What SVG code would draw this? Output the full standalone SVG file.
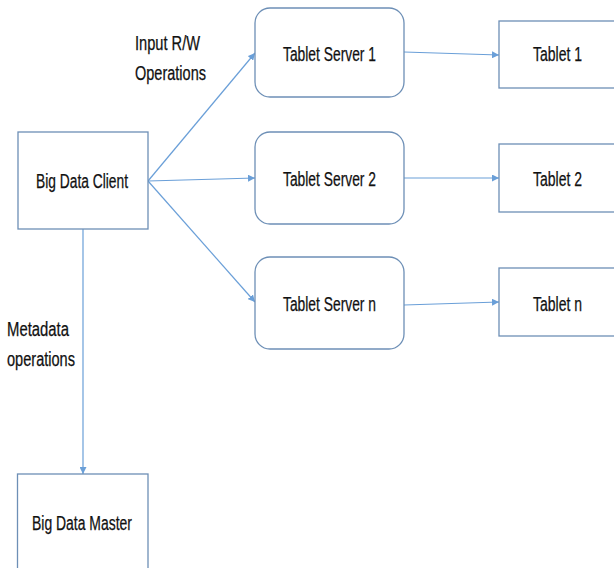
<svg xmlns="http://www.w3.org/2000/svg" width="614" height="568" viewBox="0 0 614 568">
<style>
.box{fill:#fff;stroke:#6d8fb6;stroke-width:1.3}
.t{font-family:"Liberation Sans",Arial,sans-serif;font-size:19.5px;fill:#111;stroke:#111;stroke-width:0.25}
.e{fill:none;stroke:#6a9fd8;stroke-width:1.2}
</style>
<defs>
<marker id="ah" viewBox="0 0 10 10" refX="10" refY="5" markerWidth="7" markerHeight="7" markerUnits="userSpaceOnUse" orient="auto">
<path d="M0,0 L10,5 L0,10 z" fill="#6a9fd8"/>
</marker>
</defs>
<rect width="614" height="568" fill="#fff"/>
<g id="connectors">
<line class="e" x1="148" y1="181" x2="255" y2="53" marker-end="url(#ah)"/>
<line class="e" x1="148" y1="181" x2="255" y2="178" marker-end="url(#ah)"/>
<line class="e" x1="148" y1="181" x2="255" y2="302" marker-end="url(#ah)"/>
<line class="e" x1="404" y1="52" x2="499" y2="55" marker-end="url(#ah)"/>
<line class="e" x1="404" y1="178" x2="499" y2="178" marker-end="url(#ah)"/>
<line class="e" x1="404" y1="305" x2="499" y2="302" marker-end="url(#ah)"/>
<line class="e" x1="83" y1="229" x2="83" y2="474" marker-end="url(#ah)"/>
<text class="t" x="135" y="50" textLength="65" lengthAdjust="spacingAndGlyphs">Input R/W</text>
<text class="t" x="135" y="80" textLength="71" lengthAdjust="spacingAndGlyphs">Operations</text>
<text class="t" x="7" y="336" textLength="62" lengthAdjust="spacingAndGlyphs">Metadata</text>
<text class="t" x="7" y="366" textLength="68" lengthAdjust="spacingAndGlyphs">operations</text>
</g>
<g id="client"><rect class="box" x="18" y="132" width="130" height="97"/><text class="t" x="36" y="188" textLength="92" lengthAdjust="spacingAndGlyphs">Big Data Client</text></g>
<g id="master"><rect class="box" x="17.5" y="474" width="130.5" height="110"/><text class="t" x="32" y="530" textLength="100" lengthAdjust="spacingAndGlyphs">Big Data Master</text></g>
<g id="ts1"><rect class="box" x="255" y="8" width="149" height="89" rx="15"/><text class="t" x="283" y="61" textLength="93" lengthAdjust="spacingAndGlyphs">Tablet Server 1</text></g>
<g id="ts2"><rect class="box" x="255" y="132" width="149" height="92" rx="15"/><text class="t" x="283" y="186" textLength="93" lengthAdjust="spacingAndGlyphs">Tablet Server 2</text></g>
<g id="tsn"><rect class="box" x="255" y="257" width="149" height="92" rx="15"/><text class="t" x="283" y="311" textLength="93" lengthAdjust="spacingAndGlyphs">Tablet Server n</text></g>
<g id="t1"><rect class="box" x="499" y="21" width="130" height="67"/><text class="t" x="533" y="61" textLength="49" lengthAdjust="spacingAndGlyphs">Tablet 1</text></g>
<g id="t2"><rect class="box" x="499" y="144" width="130" height="68"/><text class="t" x="533" y="186" textLength="49" lengthAdjust="spacingAndGlyphs">Tablet 2</text></g>
<g id="tn"><rect class="box" x="499" y="268" width="130" height="68"/><text class="t" x="533" y="311" textLength="49" lengthAdjust="spacingAndGlyphs">Tablet n</text></g>
</svg>
